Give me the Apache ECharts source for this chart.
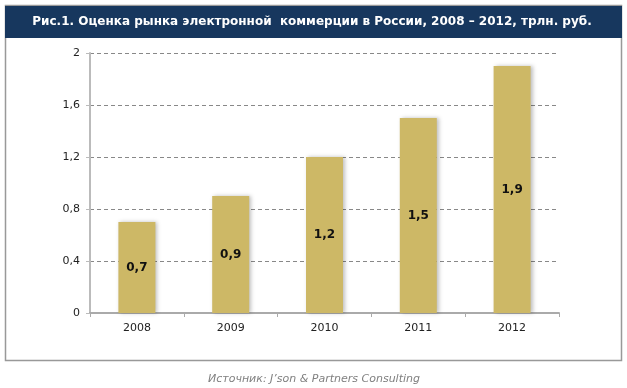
<!DOCTYPE html>
<html><head><meta charset="utf-8">
<script src="https://cdn.jsdelivr.net/npm/echarts@6/dist/echarts.min.js"></script>
<style>html,body{margin:0;padding:0;background:#fff}#c{width:627px;height:388px}</style>
</head><body><div id="c"></div>
<script>
const categories = ['2008', '2009', '2010', '2011', '2012'];
const values = [0.7, 0.9, 1.2, 1.5, 1.9];
const yTicks = [0, 0.4, 0.8, 1.2, 1.6, 2];
const titleText = 'Рис.1. Оценка рынка электронной  коммерции в России, 2008 – 2012, трлн. руб.';
const sourceText = 'Источник: J’son & Partners Consulting';

const fmt = v => String(v).replace('.', ',');
const chart = echarts.init(document.getElementById('c'), null, {renderer: 'canvas'});
chart.setOption({
  animation: false,
  backgroundColor: '#fff',
  grid: {left: 90, right: 68, top: 53, bottom: 75},
  graphic: [
    {type: 'rect', shape: {x: 5.5, y: 5.5, width: 616, height: 355}, style: {fill: 'none', stroke: '#999', lineWidth: 1.5}, z: 0},
    {type: 'rect', shape: {x: 5, y: 6, width: 617, height: 32}, style: {fill: '#17375E'}, z: 1},
    {type: 'text', x: 312, y: 22, style: {text: titleText, fill: '#fff', font: 'bold 12px "DejaVu Sans"', textAlign: 'center', textVerticalAlign: 'middle'}, z: 2},
    {type: 'text', x: 314, y: 379, style: {text: sourceText, fill: '#808080', font: 'italic 11px "DejaVu Sans"', textAlign: 'center', textVerticalAlign: 'middle'}, z: 2}
  ],
  xAxis: {
    type: 'category', data: categories,
    axisLine: {lineStyle: {color: '#aaa', width: 2}},
    axisTick: {show: true, length: 4, lineStyle: {color: '#aaa'}},
    axisLabel: {color: '#222', fontSize: 11, fontFamily: 'DejaVu Sans', margin: 10}
  },
  yAxis: {
    type: 'value', min: 0, max: 2, interval: 0.4,
    axisLine: {show: true, lineStyle: {color: '#bbb', width: 2}},
    axisTick: {show: true, length: 4, lineStyle: {color: '#bbb'}},
    axisLabel: {color: '#222', fontSize: 11, fontFamily: 'DejaVu Sans', margin: 10, formatter: v => fmt(+v.toFixed(1))},
    splitLine: {lineStyle: {color: '#888', type: [4, 3], width: 1}}
  },
  series: [{
    type: 'bar', data: values, barWidth: 37,
    itemStyle: {color: '#CDB866', shadowColor: 'rgba(0,0,0,0.25)', shadowBlur: 4, shadowOffsetX: 2, shadowOffsetY: 0},
    label: {show: true, position: 'inside', color: '#111', fontWeight: 'bold', fontSize: 12, fontFamily: 'DejaVu Sans', formatter: p => fmt(p.value)}
  }]
});
</script></body></html>
